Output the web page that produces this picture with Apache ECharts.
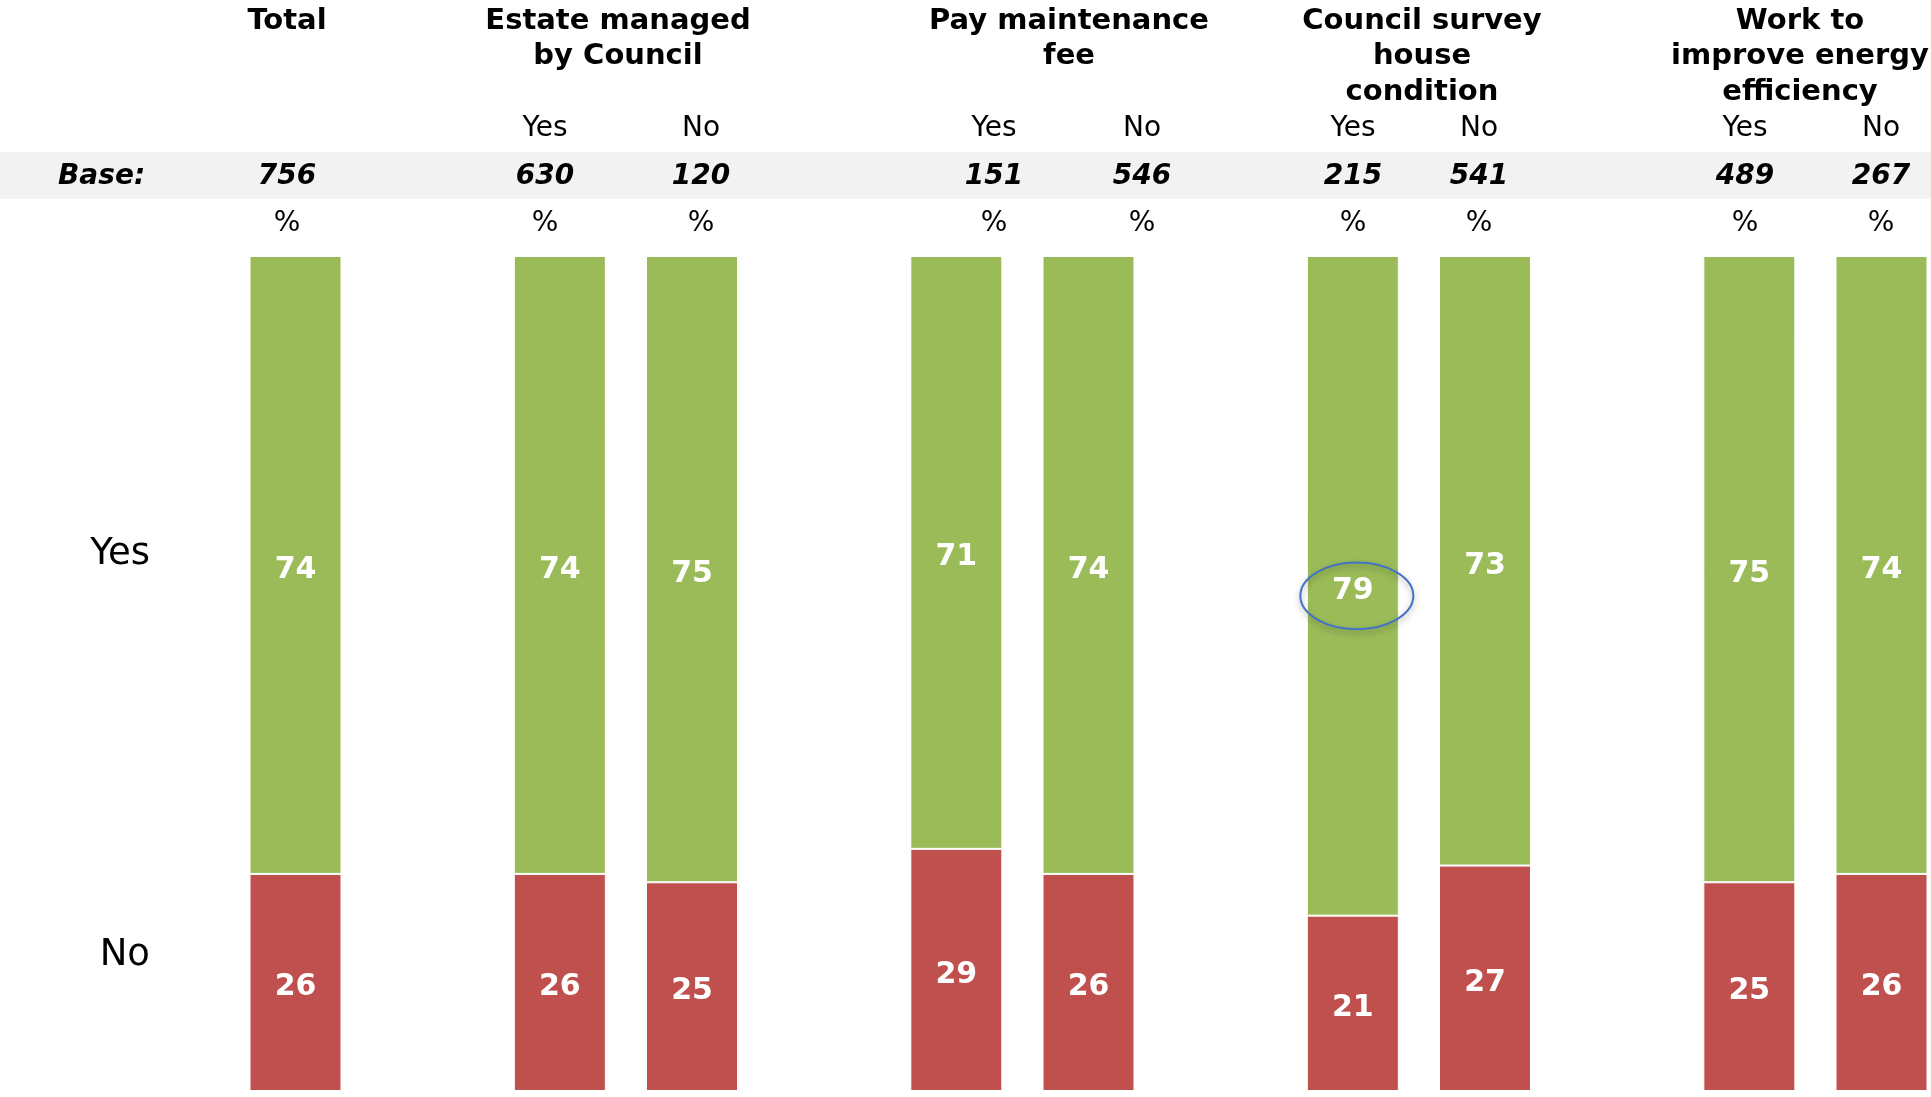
<!DOCTYPE html>
<html>
<head>
<meta charset="utf-8">
<title>Yes / No by subgroup</title>
<script src="https://cdn.jsdelivr.net/npm/echarts@6/dist/echarts.min.js"></script>
<style>
  html, body { margin: 0; padding: 0; background: #ffffff; }
  #chart { width: 1931px; height: 1097px; }
</style>
</head>
<body>
<div id="chart"></div>
<script>
// ---- Data ----
const groupTitles = ['Total', 'Estate managed\nby Council', 'Pay maintenance\nfee', 'Council survey\nhouse\ncondition', 'Work to\nimprove energy\nefficiency'];
// group index of each column
const columnGroup = [0, 1, 1, 2, 2, 3, 3, 4, 4];
const columnLabels = ['', 'Yes', 'No', 'Yes', 'No', 'Yes', 'No', 'Yes', 'No'];
const baseSizes = [756, 630, 120, 151, 546, 215, 541, 489, 267];
const yesValues = [74, 74, 75, 71, 74, 79, 73, 75, 74];
const noValues = [26, 26, 25, 29, 26, 21, 27, 25, 26];
const seriesNames = ['Yes', 'No'];
const baseLabel = 'Base:';
const unitLabel = '%';
// column highlighted with a ring (Council survey: Yes, Yes share)
const highlightColumn = 5;

// ---- Layout (pixel positions of the header table) ----
const groupTitleX = [287, 618, 1069, 1422, 1800];
const columnTextX = [287, 545, 701, 994, 1142, 1353, 1479, 1745, 1881];

const GREEN = '#9BBB59';
const RED = '#C0504D';
const FONT = '"DejaVu Sans", Verdana, sans-serif';

// Build category slots: an empty slot separates each group
const categories = [];
const slotOfColumn = [];
columnGroup.forEach((g, i) => {
  if (i > 0 && g !== columnGroup[i - 1]) categories.push('gap' + g);
  slotOfColumn.push(categories.length);
  categories.push('col' + i);
});
const yesData = categories.map(() => '-');
const noData = categories.map(() => '-');
slotOfColumn.forEach((s, i) => { yesData[s] = yesValues[i]; noData[s] = noValues[i]; });

const chart = echarts.init(document.getElementById('chart'), null, { renderer: 'canvas' });

const barLabel = {
  show: true,
  position: 'inside',
  offset: [0, 5],
  color: '#ffffff',
  fontFamily: FONT,
  fontWeight: 'bold',
  fontSize: 30
};

chart.setOption({
  animation: false,
  backgroundColor: '#ffffff',
  // first and last slots sit on the grid edges
  grid: { left: 295.5, top: 256, width: 1586, height: 835, containLabel: false },
  xAxis: {
    type: 'category',
    data: categories,
    boundaryGap: false,
    axisLine: { show: false },
    axisTick: { show: false },
    axisLabel: { show: false },
    splitLine: { show: false }
  },
  yAxis: {
    type: 'value',
    min: 0,
    max: 100,
    show: false
  },
  series: [
    {
      name: seriesNames[1],
      type: 'bar',
      stack: 'share',
      clip: false,
      data: noData,
      barWidth: 92,
      itemStyle: { color: RED, borderColor: '#ffffff', borderWidth: 1 },
      label: barLabel
    },
    {
      name: seriesNames[0],
      type: 'bar',
      stack: 'share',
      clip: false,
      data: yesData,
      barWidth: 92,
      itemStyle: { color: GREEN, borderColor: '#ffffff', borderWidth: 1 },
      label: barLabel
    }
  ]
});

// ---- Header table, side labels and highlight ring ----
const graphics = [];

// grey "Base" band
graphics.push({
  type: 'rect', z: 0,
  shape: { x: 0, y: 152, width: 1931, height: 47 },
  style: { fill: '#F2F2F2' },
  silent: true
});

groupTitles.forEach((t, g) => {
  graphics.push({
    type: 'text', z: 5,
    x: groupTitleX[g], y: 3.5,
    style: {
      text: t, align: 'center', verticalAlign: 'top',
      font: 'bold 29px ' + FONT, lineHeight: 35.5, fill: '#000000'
    }
  });
});

graphics.push({
  type: 'text', z: 5, x: 58, y: 177,
  style: { text: baseLabel, align: 'left', verticalAlign: 'middle', font: 'italic bold 28px ' + FONT, fill: '#000000' }
});

columnLabels.forEach((lab, i) => {
  const x = columnTextX[i];
  if (lab) {
    graphics.push({
      type: 'text', z: 5, x: x, y: 128.5,
      style: { text: lab, align: 'center', verticalAlign: 'middle', font: '28px ' + FONT, fill: '#000000' }
    });
  }
  graphics.push({
    type: 'text', z: 5, x: x, y: 177,
    style: { text: String(baseSizes[i]), align: 'center', verticalAlign: 'middle', font: 'italic bold 28px ' + FONT, fill: '#000000' }
  });
  graphics.push({
    type: 'text', z: 5, x: x, y: 224,
    style: { text: unitLabel, align: 'center', verticalAlign: 'middle', font: '28px ' + FONT, fill: '#000000' }
  });
});

// series names at the left
graphics.push({
  type: 'text', z: 5, x: 150, y: 554,
  style: { text: seriesNames[0], align: 'right', verticalAlign: 'middle', font: '37px ' + FONT, fill: '#000000' }
});
graphics.push({
  type: 'text', z: 5, x: 150, y: 955,
  style: { text: seriesNames[1], align: 'right', verticalAlign: 'middle', font: '37px ' + FONT, fill: '#000000' }
});

// ring around the highlighted value label
const hlSlot = categories[slotOfColumn[highlightColumn]];
const hlMid = noValues[highlightColumn] + yesValues[highlightColumn] / 2;
const hlPt = chart.convertToPixel({ gridIndex: 0 }, [hlSlot, hlMid]);
graphics.push({
  type: 'ellipse', z: 10,
  shape: { cx: hlPt[0] + 4, cy: hlPt[1] + 10, rx: 56.5, ry: 33.3 },
  style: {
    fill: 'none', stroke: '#4472C4', lineWidth: 2,
    shadowBlur: 6, shadowColor: 'rgba(0,0,0,0.35)', shadowOffsetY: 3
  },
  silent: true
});

chart.setOption({ graphic: { elements: graphics } });
</script>
</body>
</html>
